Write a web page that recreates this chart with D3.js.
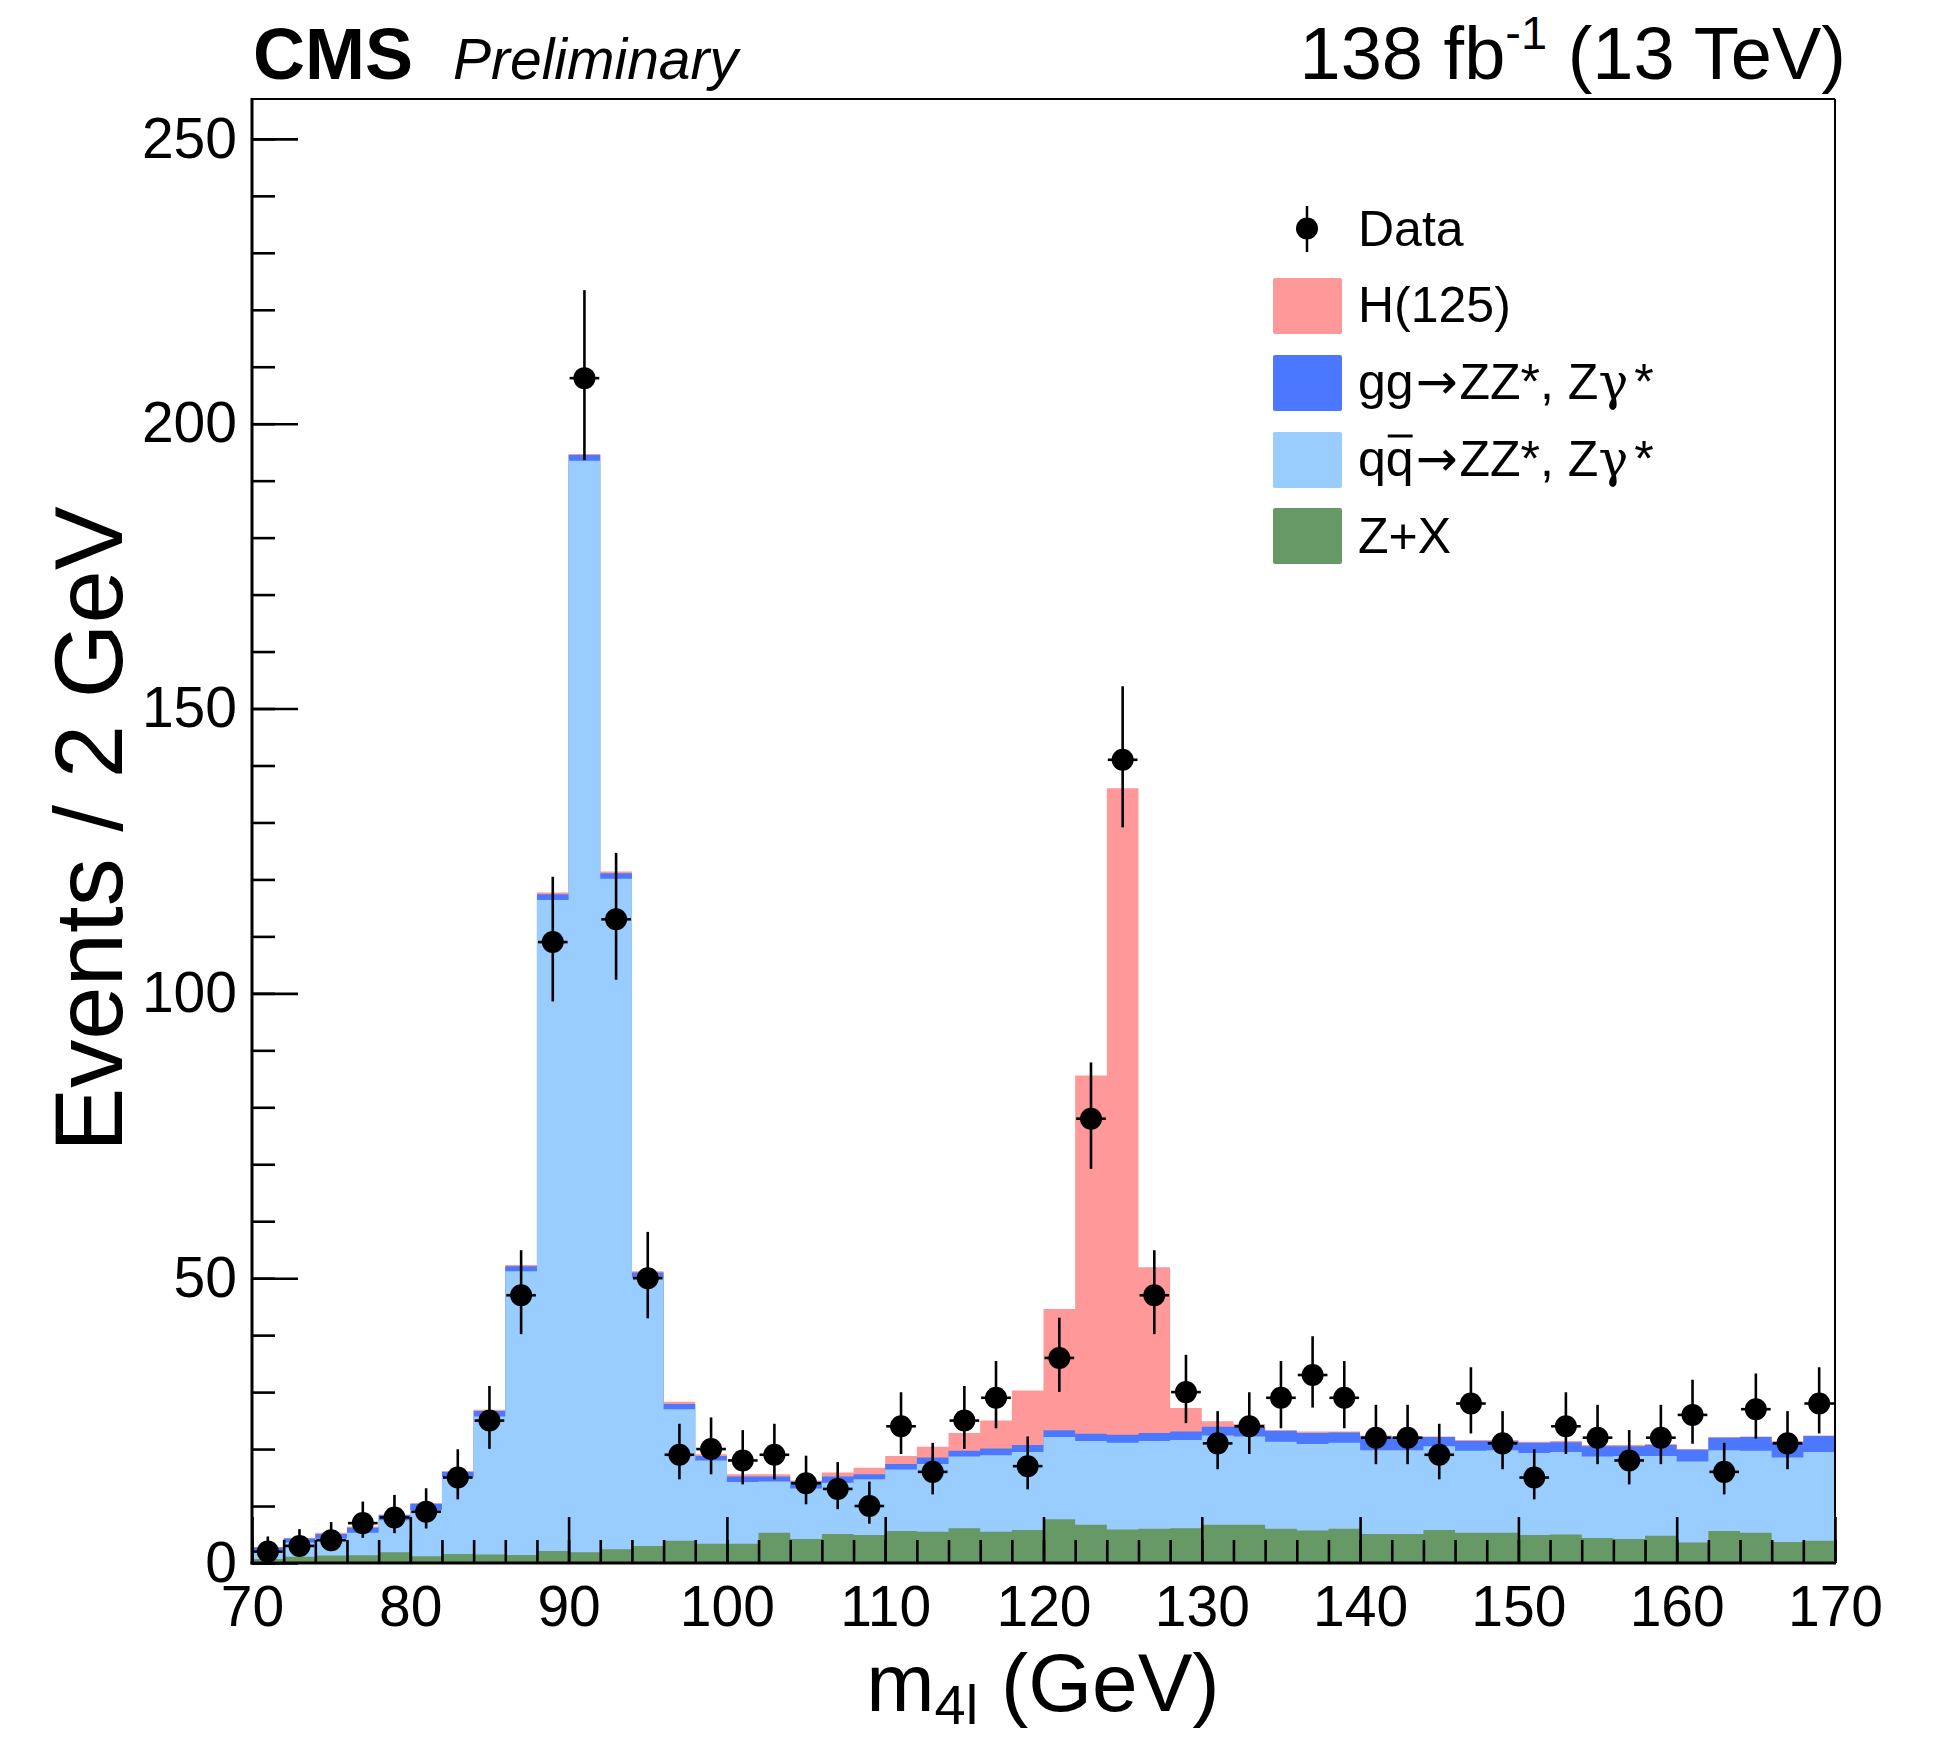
<!DOCTYPE html>
<html><head><meta charset="utf-8">
<script src="https://cdn.jsdelivr.net/npm/d3@7"></script>
<style>
body{margin:0;background:#fff}
svg{display:block}
text{font-family:"Liberation Sans",Arial,Helvetica,sans-serif;fill:#000}
</style>
</head><body>
<svg id="c" width="1947" height="1737"></svg>
<script>
// ---- data ----
const binCenters = [71,73,75,77,79,81,83,85,87,89,91,93,95,97,99,101,103,105,107,109,
  111,113,115,117,119,121,123,125,127,129,131,133,135,137,139,141,143,145,147,149,
  151,153,155,157,159,161,163,165,167,169];
const binWidth = 2;
const dataCounts = [2,3,4,7,8,9,15,25,47,109,208,113,50,19,20,18,19,14,13,10,
  24,16,25,29,17,36,78,141,47,30,21,24,29,33,29,22,22,19,28,21,
  15,24,22,18,22,26,16,27,21,28];
const zxYield = [0.7,1.1,1.3,1.35,1.9,1.2,1.6,1.5,1.4,2.1,1.9,2.4,3.0,3.9,3.4,3.4,5.3,4.2,5.1,4.9,
  5.6,5.5,6.1,5.5,5.8,7.7,6.7,5.9,6.0,6.1,6.7,6.7,6.0,5.7,6.0,5.1,5.1,5.8,5.3,5.3,
  4.9,5.0,4.4,4.2,4.8,3.6,5.6,5.3,3.7,3.9];
const qqZZ = [1.5,2.5,3.0,3.95,5.6,8.1,13.5,24.2,49.8,114.3,191.6,117.7,47.1,23.1,14.6,10.8,9.0,8.9,9.0,9.8,
  10.8,11.9,12.6,13.4,13.7,14.4,14.7,15.2,15.4,15.5,15.7,15.5,15.3,15.2,15.1,14.7,14.7,14.7,14.4,14.5,
  14.4,14.5,14.3,14.6,14.0,14.2,14.2,14.4,14.8,15.6];
const ggZZ = [0.5,0.7,0.8,0.9,0.9,1.1,0.9,1.0,0.9,1.0,1.0,1.0,0.9,0.9,0.8,1.0,0.9,1.2,1.1,0.9,
  1.0,1.1,1.0,1.2,1.2,1.2,1.3,1.4,1.4,1.5,1.5,1.7,1.9,1.9,1.8,2.4,2.3,1.6,1.7,1.6,
  1.8,1.7,1.8,1.7,1.9,2.1,2.2,2.4,2.6,2.8];
const higgs = [0.1,0.1,0.2,0.2,0.1,0.1,0.1,0.2,0.2,0.3,0.2,0.3,0.2,0.4,0.3,0.4,0.4,0.2,0.7,1.1,
  1.4,1.9,3.1,4.9,9.6,21.3,62.9,113.5,29.1,4.1,1.0,0.5,0.1,0.3,0.2,0.2,0.1,0.1,0.2,0.2,
  0.2,0.2,0.2,0.2,0.2,0.1,0.1,0.1,0.3,0.1];
const xTicks = [70,80,90,100,110,120,130,140,150,160,170];
const yTicks = [0,50,100,150,200,250];
const seriesKeys = ["zx","qq","gg","h"];
const seriesColors = {zx:"#669966", qq:"#99ccff", gg:"#4b78ff", h:"#ff9999"};

// ---- layout ----
const L=252, R=1835, T=99, B=1563;
const svg = d3.select("#c");
const x = d3.scaleLinear().domain([70,170]).range([L,R]);
const y = d3.scaleLinear().domain([0,257]).range([B,T]);

svg.append("defs").append("clipPath").attr("id","clip")
  .append("rect").attr("x",L).attr("y",T).attr("width",R-L).attr("height",B-T);

// ---- stacked histogram ----
const rows = binCenters.map((c,i)=>({c, zx:zxYield[i], qq:qqZZ[i], gg:ggZZ[i], h:higgs[i]}));
const stacked = d3.stack().keys(seriesKeys)(rows);
const area = d3.area().x(d=>x(d.x)).y0(y(0)).y1(d=>y(d.v));
const gStack = svg.append("g").attr("clip-path","url(#clip)");
stacked.slice().reverse().forEach(layer=>{
  const pts=[];
  layer.forEach((d,i)=>{
    const c=binCenters[i];
    pts.push({x:c-binWidth/2, v:d[1]},{x:c+binWidth/2, v:d[1]});
  });
  gStack.append("path").attr("d",area(pts)).attr("fill",seriesColors[layer.key]);
});

// ---- axes ----
function styleAxis(g){
  g.select(".domain").remove();
  g.selectAll(".tick line").attr("stroke","#000").attr("stroke-width",2.6);
  g.selectAll("text").attr("font-family",'"Liberation Sans",Arial,Helvetica,sans-serif')
    .attr("font-size",57).attr("fill","#000");
}
const yMinor = svg.append("g").attr("transform",`translate(${L},0)`)
  .call(d3.axisLeft(y).tickValues(d3.range(0,257,10)).tickSize(-23).tickFormat(""));
styleAxis(yMinor);
const yMajor = svg.append("g").attr("transform",`translate(${L},0)`)
  .call(d3.axisLeft(y).tickValues(yTicks).tickSize(-46).tickPadding(15));
styleAxis(yMajor);
const xMinor = svg.append("g").attr("transform",`translate(0,${B})`)
  .call(d3.axisBottom(x).tickValues(d3.range(70,171,2)).tickSize(-23).tickFormat(""));
styleAxis(xMinor);
const xMajor = svg.append("g").attr("transform",`translate(0,${B})`)
  .call(d3.axisBottom(x).tickValues(xTicks).tickSize(-46).tickPadding(23));
styleAxis(xMajor);

// frame
svg.append("line").attr("x1",L).attr("x2",R).attr("y1",T).attr("y2",T).attr("stroke","#000").attr("stroke-width",2);
svg.append("line").attr("x1",R).attr("x2",R).attr("y1",T).attr("y2",B).attr("stroke","#000").attr("stroke-width",2);
svg.append("line").attr("x1",L).attr("x2",L).attr("y1",T-1).attr("y2",B+1.5).attr("stroke","#000").attr("stroke-width",3);
svg.append("line").attr("x1",L-1.5).attr("x2",R+1).attr("y1",B).attr("y2",B).attr("stroke","#000").attr("stroke-width",3);

// ---- data points with Poisson errors ----
const errUp = n => n + Math.sqrt(n+0.75) + 1;
const errLo = n => n>0 ? n*Math.pow(1-1/(9*n)-1/(3*Math.sqrt(n)),3) : 0;
const gData = svg.append("g");
binCenters.forEach((c,i)=>{
  const n=dataCounts[i];
  gData.append("line").attr("x1",x(c)).attr("x2",x(c)).attr("y1",y(errLo(n))).attr("y2",y(errUp(n)))
    .attr("stroke","#000").attr("stroke-width",2.6);
  gData.append("line").attr("x1",x(c-binWidth/2)+1).attr("x2",x(c+binWidth/2)-1).attr("y1",y(n)).attr("y2",y(n))
    .attr("stroke","#000").attr("stroke-width",2.6);
  gData.append("circle").attr("cx",x(c)).attr("cy",y(n)).attr("r",11).attr("fill","#000");
});

// ---- titles ----
svg.append("text").attr("x",253).attr("y",79).attr("font-size",72).attr("font-weight","bold").text("CMS");
svg.append("text").attr("x",453).attr("y",79).attr("font-size",57).attr("font-style","italic").text("Preliminary");
const lumi = svg.append("text").attr("x",1846).attr("y",79).attr("font-size",74).attr("text-anchor","end");
lumi.append("tspan").text("138 fb");
lumi.append("tspan").attr("font-size",47).attr("dy",-30).text("-1");
lumi.append("tspan").attr("dy",30).text(" (13 TeV)");

svg.append("text").attr("transform","translate(122,829) rotate(-90)").attr("text-anchor","middle")
  .attr("font-size",96).text("Events / 2 GeV");

const xt = svg.append("text").attr("x",1043).attr("y",1711).attr("text-anchor","middle").attr("font-size",82);
xt.append("tspan").text("m");
xt.append("tspan").attr("font-size",56).attr("dy",13).text("4l");
xt.append("tspan").attr("dy",-13).text(" (GeV)");

// ---- legend ----
const legX = 1273, boxW = 69, boxH = 56, textX = 1358, fs = 50;
const lg = svg.append("g");
lg.append("line").attr("x1",1307).attr("x2",1307).attr("y1",206).attr("y2",252).attr("stroke","#000").attr("stroke-width",2.5);
lg.append("circle").attr("cx",1307).attr("cy",228.5).attr("r",11).attr("fill","#000");
lg.append("text").attr("x",textX).attr("y",246).attr("font-size",fs).text("Data");
const legItems = [
  {key:"h", y:278},
  {key:"gg", y:355},
  {key:"qq", y:432},
  {key:"zx", y:508}
];
legItems.forEach(it=>{
  lg.append("rect").attr("x",legX).attr("y",it.y).attr("width",boxW).attr("height",boxH)
    .attr("rx",2).attr("fill",seriesColors[it.key]);
});
lg.append("text").attr("x",textX).attr("y",322).attr("font-size",fs).text("H(125)");
function procLabel(txt, yb, first){
  const t = lg.append("text").attr("x",textX).attr("y",yb).attr("font-size",fs);
  t.append("tspan").text(first);
  t.append("tspan").attr("font-family","'DejaVu Sans'").attr("font-weight","normal").attr("dx",2).text("\u2192");
  t.append("tspan").attr("dx",2).text("ZZ*, Z");
  t.append("tspan").attr("font-family","'DejaVu Serif'").text("\u03B3");
  t.append("tspan").attr("dx",6).text("*");
  return t;
}
procLabel("gg", 399, "gg");
const qqt = procLabel("qq", 476, "qq");
const n1 = qqt.node();
const s = n1.getStartPositionOfChar(1), e = n1.getEndPositionOfChar(1);
lg.append("line").attr("x1",s.x+2).attr("x2",e.x-1).attr("y1",476-40).attr("y2",476-40)
  .attr("stroke","#000").attr("stroke-width",3);
lg.append("text").attr("x",textX).attr("y",553).attr("font-size",fs).text("Z+X");
</script>
</body></html>
